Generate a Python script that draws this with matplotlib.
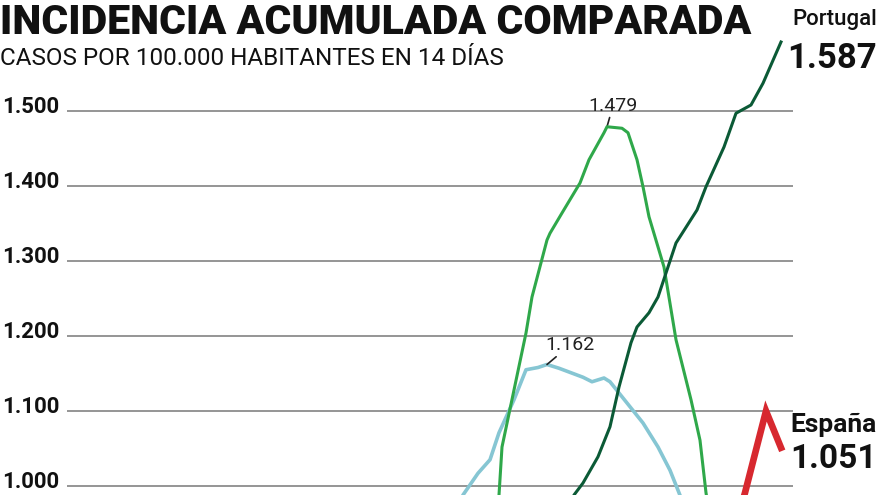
import matplotlib
matplotlib.use("Agg")
import matplotlib.pyplot as plt
import matplotlib.transforms as mtransforms


FUENTE = "Roboto"

# datos (dia, incidencia a 14 dias por 100.000 hab.)
verde_dias = [142, 144, 145, 153, 155, 160, 161, 165, 171, 174, 179, 180, 185, 187, 190, 192, 194, 199, 203, 208, 211, 213, 215]
verde_vals = [920, 988, 1052, 1204, 1252, 1328, 1337, 1364, 1404, 1435, 1471, 1479, 1477, 1471, 1435, 1399, 1359, 1292, 1195, 1115, 1061, 991, 940]

azul_dias = [128, 132, 137, 141, 144, 149, 153, 157, 160, 164, 172, 175, 179, 181, 185, 192, 197, 201, 204, 207]
azul_vals = [950, 988, 1017, 1035, 1071, 1115, 1155, 1158, 1162, 1157, 1145, 1139, 1144, 1139, 1119, 1084, 1052, 1021, 991, 960]

portugal_dias = [166, 169, 172, 177, 181, 184, 188, 190, 194, 197, 200, 203, 210, 213, 219, 223, 228, 232, 238]
portugal_vals = [950, 988, 1004, 1039, 1079, 1132, 1191, 1212, 1231, 1252, 1288, 1324, 1368, 1399, 1452, 1497, 1508, 1537, 1592]

espana_dias = [224, 226, 233, 238]
espana_vals = [963, 991, 1100, 1051]

ticks = [1000, 1100, 1200, 1300, 1400, 1500]


def miles(v):
    return f"{v:,}".replace(",", ".")


fig = plt.figure(figsize=(8.8, 4.95), dpi=100)
ax = fig.add_axes([67 / 880, 0, (793 - 67) / 880, 1])
ax.set_xlim(0, 242)
ax.set_ylim(988, 1648)
ax.axis("off")

for t in ticks:
    ax.axhline(t, color="#8c8c8c", lw=1.3, zorder=1)

ax.plot(azul_dias, azul_vals, color="#86c6d3", lw=2.6, zorder=3)
ax.plot(verde_dias, verde_vals, color="#2fa84a", lw=2.2, zorder=4)
ax.plot(portugal_dias, portugal_vals, color="#0b5a36", lw=2.2, zorder=5)
ax.plot(espana_dias, espana_vals, color="#d7282f", lw=4.8, zorder=6,
        solid_joinstyle="miter")

# etiquetas eje y
tr = mtransforms.blended_transform_factory(fig.transFigure, ax.transData)
off = mtransforms.offset_copy(tr, fig=fig, x=0, y=3, units="points")
for t in ticks:
    fig.text(2 / 880, t, miles(t), transform=off, ha="left", va="center",
             fontsize=16, fontweight="bold", family=FUENTE, color="#111111")

# maximos
i = verde_vals.index(max(verde_vals))
ax.annotate(miles(max(verde_vals)), xy=(verde_dias[i], verde_vals[i]),
            xytext=(verde_dias[i] + 2, verde_vals[i] + 16), ha="center", va="bottom",
            fontsize=14, family=FUENTE, color="#222222",
            arrowprops=dict(arrowstyle="-", color="#222222", lw=1.2, shrinkA=0, shrinkB=0))
i = azul_vals.index(max(azul_vals))
ax.annotate(miles(max(azul_vals)), xy=(azul_dias[i], azul_vals[i]),
            xytext=(azul_dias[i] - 0.5, azul_vals[i] + 14), ha="left", va="bottom",
            fontsize=14, family=FUENTE, color="#222222",
            arrowprops=dict(arrowstyle="-", color="#222222", lw=1.2, shrinkA=0, shrinkB=0))

# titulos
fig.text(0, 1 - 3 / 495, "INCIDENCIA ACUMULADA COMPARADA", ha="left", va="top",
         fontsize=29.5, fontweight="black", family=FUENTE, color="#111111")
fig.text(0, 1 - 47 / 495, "CASOS POR 100.000 HABITANTES EN 14 DÍAS", ha="left", va="top",
         fontsize=17.5, family=FUENTE, color="#111111")

# etiquetas finales
fig.text(877 / 880, 1 - 9 / 495, "Portugal", ha="right", va="top",
         fontsize=16, fontweight="medium", family=FUENTE, color="#111111")
fig.text(877 / 880, 1 - 42 / 495, miles(1587), ha="right", va="top",
         fontsize=25, fontweight="bold", family=FUENTE, color="#111111")
fig.text(877 / 880, 1 - 413 / 495, "España", ha="right", va="top",
         fontsize=19, fontweight="bold", family=FUENTE, color="#111111")
fig.text(877 / 880, 1 - 443 / 495, miles(espana_vals[-1]), ha="right", va="top",
         fontsize=24, fontweight="bold", family=FUENTE, color="#111111")

fig.savefig("out.png", dpi=100, facecolor="white")
